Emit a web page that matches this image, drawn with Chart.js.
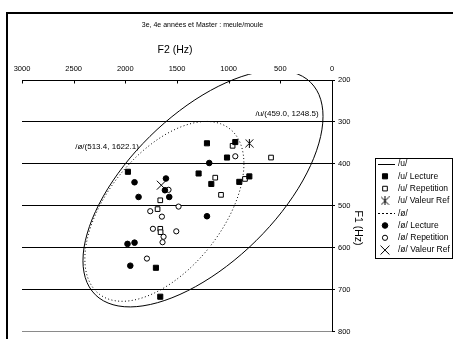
<!DOCTYPE html>
<html>
<head>
<meta charset="utf-8">
<script src="https://cdn.jsdelivr.net/npm/chart.js@4/dist/chart.umd.min.js"></script>
<style>
  html, body { margin: 0; padding: 0; background: #fff; }
  canvas { display: block; }
</style>
</head>
<body>
<canvas id="chart" width="453" height="339"></canvas>
<script>
// Formant measurements, meule/moule (F2 on the horizontal axis, F1 on the vertical axis, Hz)
const uLectureF2 = [1210, 936, 1016, 1975, 1291, 1168, 897, 800, 1704, 1662];
const uLectureF1 = [351, 348, 385, 419, 423, 448, 443, 430, 648, 717];
const uRepetitionF2 = [962, 590, 1130, 1074, 842, 1662, 1688, 1662, 1659];
const uRepetitionF1 = [357, 385, 433, 474, 436, 487, 508, 555, 563];
const uRefF2 = [800];
const uRefF1 = [351];

const oLectureF2 = [1188, 1607, 1911, 1617, 1575, 1872, 1210, 1979, 1911, 1952];
const oLectureF1 = [398, 435, 444, 463, 479, 479, 525, 591, 588, 643];
const oRepetitionF2 = [936, 1582, 1759, 1485, 1646, 1733, 1507, 1630, 1640, 1791];
const oRepetitionF1 = [382, 462, 513, 502, 526, 555, 561, 574, 587, 626];
const oRefF2 = [1652];
const oRefF1 = [451];

// Dispersion ellipse outlines (closed contours)
const uEllipseF2 = [87, 126.5, 242.5, 427, 667.7, 947.9, 1248.5, 1549.1, 1829.3, 2069.9, 2254.5, 2370.5,
                    2410.1, 2370.5, 2254.5, 2069.9, 1829.3, 1549.1, 1248.5, 947.9, 667.7, 427, 242.5, 126.5];
const uEllipseF1 = [286.8, 350.5, 421.7, 495.4, 566.6, 630.5, 682.7, 719.6, 738.8, 739.0, 720.0, 683.3,
                    631.2, 567.5, 496.3, 422.6, 351.4, 287.5, 235.3, 198.4, 179.2, 179.0, 198.0, 234.7];
const oEllipseF2 = [852.5, 878.7, 955.6, 1077.9, 1237.3, 1422.9, 1622.1, 1821.3, 2006.9, 2166.3, 2288.6, 2365.5,
                    2391.7, 2365.5, 2288.6, 2166.3, 2006.9, 1821.3, 1622.1, 1422.9, 1237.3, 1077.9, 955.6, 878.7];
const oEllipseF1 = [399.7, 450.7, 505.9, 561.7, 614.1, 659.7, 695.3, 718.5, 727.8, 722.4, 702.8, 670.3,
                    627.1, 576.1, 520.9, 465.1, 412.7, 367.1, 331.5, 308.3, 299.0, 304.4, 324.0, 356.5];

// Group means (F1, F2)
const uMean = [459.0, 1248.5];
const oMean = [513.4, 1622.1];

// Axis ticks
const f2Ticks = [3000, 2500, 2000, 1500, 1000, 500, 0];
const f1Ticks = [200, 300, 400, 500, 600, 700, 800];

const FONT = "'Liberation Sans', Arial, sans-serif";
Chart.defaults.font.family = FONT;
Chart.defaults.color = '#000';

const toPoints = (f2, f1) => f2.map((v, i) => ({ x: v, y: f1[i] }));

// Closed contour: pad with the neighbours on each side so the smoothed curve has no seam,
// then hide the two padding segments.
function closedContour(f2, f1) {
  const n = f2.length, pts = [];
  for (let i = -1; i <= n + 1; i++) {
    const k = (i + n) % n;
    pts.push({ x: f2[k], y: f1[k] });
  }
  return pts;
}
function seamHider(n) {
  return c => (c.p0DataIndex === 0 || c.p0DataIndex >= n + 1) ? 'rgba(0,0,0,0)' : undefined;
}

// Excel-style asterisk marker: X with a vertical bar
function asteriskMarker(size) {
  const c = document.createElement('canvas');
  c.width = c.height = size;
  const g = c.getContext('2d');
  g.strokeStyle = '#000';
  g.lineWidth = 1;
  g.beginPath();
  g.moveTo(0.5, 0.5); g.lineTo(size - 0.5, size - 0.5);
  g.moveTo(size - 0.5, 0.5); g.lineTo(0.5, size - 0.5);
  g.moveTo(size / 2, 0); g.lineTo(size / 2, size);
  g.stroke();
  return c;
}

const outlineClip = { left: 0, top: 6, right: 0, bottom: 0 };

const datasets = [
  {
    label: '/u/', data: closedContour(uEllipseF2, uEllipseF1), showLine: true, tension: 0.34,
    borderColor: '#000', borderWidth: 1, pointRadius: 0, clip: outlineClip,
    segment: { borderColor: seamHider(uEllipseF2.length) }
  },
  {
    label: '/u/ Lecture', data: toPoints(uLectureF2, uLectureF1),
    pointStyle: 'rect', pointRadius: 3.6, backgroundColor: '#000', borderColor: '#000', borderWidth: 1
  },
  {
    label: '/u/ Repetition', data: toPoints(uRepetitionF2, uRepetitionF1),
    pointStyle: 'rect', pointRadius: 3.3, backgroundColor: '#fff', borderColor: '#000', borderWidth: 1
  },
  {
    label: '/u/ Valeur Ref', data: toPoints(uRefF2, uRefF1),
    pointStyle: asteriskMarker(9), pointRadius: 4.5, backgroundColor: '#000', borderColor: '#000', borderWidth: 1
  },
  {
    label: '/ø/', data: closedContour(oEllipseF2, oEllipseF1), showLine: true, tension: 0.34,
    borderColor: '#000', borderWidth: 1, borderDash: [1, 2.4], pointRadius: 0, clip: outlineClip,
    segment: { borderColor: seamHider(oEllipseF2.length) }
  },
  {
    label: '/ø/ Lecture', data: toPoints(oLectureF2, oLectureF1),
    pointStyle: 'circle', pointRadius: 2.8, backgroundColor: '#000', borderColor: '#000', borderWidth: 1
  },
  {
    label: '/ø/ Repetition', data: toPoints(oRepetitionF2, oRepetitionF1),
    pointStyle: 'circle', pointRadius: 2.6, backgroundColor: '#fff', borderColor: '#000', borderWidth: 1
  },
  {
    label: '/ø/ Valeur Ref', data: toPoints(oRefF2, oRefF1),
    pointStyle: 'crossRot', pointRadius: 6.3, backgroundColor: '#000', borderColor: '#000', borderWidth: 1
  }
];

// Titles, inward tick marks on the F2 axis, mean labels, frame and legend
const decorations = {
  id: 'decorations',
  afterDraw(chart, args, opts) {
    const { ctx, chartArea, scales: { x, y } } = chart;
    ctx.save();

    // chart frame
    ctx.fillStyle = '#000';
    ctx.fillRect(6, 12, 2, chart.height - 12);
    ctx.fillRect(6, 12, chart.width - 6, 2);

    // F2 axis tick marks pointing into the plot
    ctx.strokeStyle = '#000';
    ctx.lineWidth = 1;
    ctx.beginPath();
    x.ticks.forEach(t => {
      const px = Math.round(x.getPixelForValue(t.value)) + 0.5;
      ctx.moveTo(px, chartArea.top);
      ctx.lineTo(px, chartArea.top + 3.5);
    });
    ctx.stroke();

    ctx.fillStyle = '#000';
    ctx.textBaseline = 'middle';

    // chart title
    ctx.textAlign = 'center';
    ctx.font = '7px ' + FONT;
    ctx.fillText(opts.title, 202.5, 25);

    // axis titles
    ctx.font = '10.5px ' + FONT;
    ctx.fillText('F2 (Hz)', 175, 50);
    ctx.save();
    ctx.translate(358, 228);
    ctx.rotate(Math.PI / 2);
    ctx.fillText('F1 (Hz)', 0, 0);
    ctx.restore();

    // mean labels
    ctx.font = '8px ' + FONT;
    opts.meanLabels.forEach(l => {
      ctx.textAlign = l.align;
      ctx.fillText(l.text, x.getPixelForValue(l.f2), y.getPixelForValue(l.f1));
    });

    // legend
    const L = opts.legend;
    ctx.strokeStyle = '#000';
    ctx.lineWidth = 1;
    ctx.strokeRect(L.left + 0.5, L.top + 0.5, L.width, L.height);
    ctx.font = L.fontSize + 'px ' + FONT;
    ctx.textAlign = 'left';
    chart.data.datasets.forEach((ds, i) => {
      const cy = L.top + L.firstRow + i * L.rowGap;
      if (ds.showLine) {
        ctx.save();
        ctx.strokeStyle = ds.borderColor;
        ctx.setLineDash(ds.borderDash ? [2, 2] : []);
        ctx.beginPath();
        ctx.moveTo(L.left + 3, Math.round(cy) + 0.5);
        ctx.lineTo(L.left + 20, Math.round(cy) + 0.5);
        ctx.stroke();
        ctx.restore();
      } else {
        ctx.save();
        ctx.fillStyle = ds.backgroundColor;
        ctx.strokeStyle = ds.borderColor;
        ctx.lineWidth = ds.borderWidth;
        Chart.helpers.drawPoint(ctx, {
          pointStyle: ds.pointStyle, radius: ds.pointRadius, rotation: 0, borderWidth: ds.borderWidth
        }, L.left + 10, cy);
        ctx.restore();
      }
      ctx.fillStyle = '#000';
      ctx.fillText(ds.label, L.left + 23, cy);
    });

    ctx.restore();
  }
};

new Chart(document.getElementById('chart'), {
  type: 'scatter',
  data: { datasets },
  options: {
    responsive: false,
    animation: false,
    devicePixelRatio: 1,
    layout: { padding: { left: 22, right: 0, top: 0, bottom: 5 } },
    plugins: {
      legend: { display: false },
      tooltip: { enabled: false },
      decorations: {
        title: '3e, 4e années et Master : meule/moule',
        meanLabels: [
          { text: `/u/(${uMean[0].toFixed(1)}, ${uMean[1].toFixed(1)})`, f2: 130, f1: 281, align: 'right' },
          { text: `/ø/(${oMean[0].toFixed(1)}, ${oMean[1].toFixed(1)})`, f2: 2485, f1: 360, align: 'left' }
        ],
        legend: { left: 375, top: 158, width: 77, height: 100, firstRow: 6, rowGap: 12.3, fontSize: 8.5 }
      }
    },
    scales: {
      x: {
        type: 'linear',
        position: 'top',
        reverse: true,
        min: Math.min(...f2Ticks),
        max: Math.max(...f2Ticks),
        afterBuildTicks: s => { s.ticks = f2Ticks.map(v => ({ value: v })); },
        afterFit: s => { s.height = 80; },
        grid: { display: true, drawOnChartArea: false, drawTicks: false },
        border: { display: true, color: '#000', width: 1 },
        ticks: { font: { size: 7.5 }, padding: 7, maxRotation: 0, autoSkip: false, callback: v => String(v) }
      },
      y: {
        type: 'linear',
        position: 'right',
        reverse: true,
        min: Math.min(...f1Ticks),
        max: Math.max(...f1Ticks),
        afterBuildTicks: s => { s.ticks = f1Ticks.map(v => ({ value: v })); },
        afterFit: s => { s.width = 121; },
        grid: {
          color: c => (c.tick && c.tick.value === 800) ? '#8a8a8a' : '#000',
          tickColor: '#000',
          tickLength: 3,
          lineWidth: 1
        },
        border: { display: true, color: '#000', width: 1 },
        ticks: { font: { size: 7.5 }, padding: 3, autoSkip: false, callback: v => String(v) }
      }
    }
  },
  plugins: [decorations]
});
</script>
</body>
</html>
